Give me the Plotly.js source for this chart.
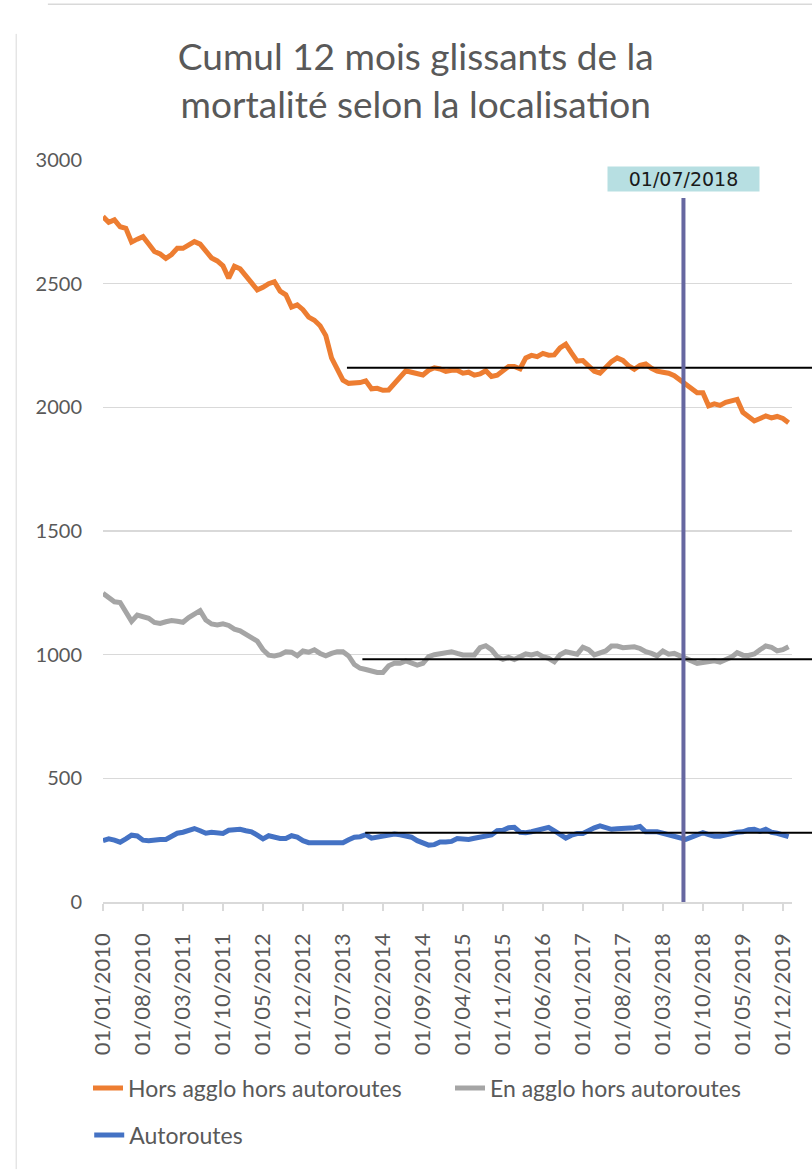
<!DOCTYPE html>
<html>
<head>
<meta charset="utf-8">
<script src="https://cdn.plot.ly/plotly-3.0.1.min.js"></script>
<style>html,body{margin:0;padding:0;background:#fff;}#chart{width:812px;height:1170px;}</style>
</head>
<body>
<div id="chart"></div>
<script>
// Monthly categories 01/01/2010 .. 01/01/2020
const firstYear = 2010, monthCount = 121;
const categories = [];
for (let i = 0; i < monthCount; i++) {
  const m = (i % 12) + 1, y = firstYear + Math.floor(i / 12);
  categories.push('01/' + String(m).padStart(2, '0') + '/' + y);
}
const tickLabels = ['01/01/2010','01/08/2010','01/03/2011','01/10/2011','01/05/2012','01/12/2012',
  '01/07/2013','01/02/2014','01/09/2014','01/04/2015','01/11/2015','01/06/2016','01/01/2017',
  '01/08/2017','01/03/2018','01/10/2018','01/05/2019','01/12/2019'];

const horsAgglo = [2771,2748,2758,2730,2724,2668,2680,2690,2660,2630,2620,2602,2618,2643,2643,2655,2670,2660,2630,2604,
  2592,2572,2522,2570,2560,2530,2500,2475,2485,2500,2508,2470,2455,2405,2414,2395,2365,2352,2330,2290,
  2200,2150,2110,2097,2097,2100,2107,2075,2077,2069,2070,2098,2120,2148,2142,2135,2131,2150,2160,2155,
  2145,2150,2150,2138,2142,2130,2135,2148,2125,2130,2150,2165,2165,2156,2200,2210,2205,2218,2211,2212,
  2240,2255,2220,2187,2189,2170,2146,2138,2165,2185,2200,2190,2168,2154,2170,2175,2158,2146,2142,2138,
  2128,2111,2090,2075,2059,2059,2006,2014,2008,2020,2026,2032,1980,1962,1945,1955,1965,1957,1963,1955,1938];

const enAgglo = [1248,1228,1214,1211,1170,1135,1160,1155,1147,1130,1126,1133,1138,1135,1131,1150,1165,1178,1140,1124,
  1120,1125,1118,1103,1096,1082,1065,1055,1020,998,995,1000,1012,1010,996,1015,1010,1020,1005,995,
  1005,1012,1012,995,960,945,940,934,928,928,955,965,965,975,965,958,965,992,1000,1003,
  1005,1012,1005,999,999,999,1028,1036,1020,992,981,989,980,990,1003,999,1005,992,985,971,
  1000,1012,1005,1002,1030,1020,999,1005,1015,1035,1035,1028,1028,1032,1025,1012,1005,995,1015,1002,
  1005,995,985,972,965,968,973,975,970,980,990,1008,998,997,1003,1020,1035,1030,1015,1020,1032];

const autoroutes = [248,255,250,242,255,270,267,250,248,253,253,253,265,278,282,290,297,288,278,282,
  282,277,290,294,294,288,284,270,255,268,262,257,257,268,262,248,240,240,240,240,
  240,240,240,252,262,264,272,258,262,264,266,275,272,268,262,248,238,230,232,243,
  243,245,257,255,253,258,262,267,271,288,290,300,302,282,280,284,290,295,302,288,
  275,258,270,277,277,290,300,308,302,294,296,297,294,300,305,284,284,284,278,271,
  266,261,253,262,272,280,272,266,266,272,280,282,284,292,294,286,294,282,278,272,264];

const seriesNames = ['Hors agglo hors autoroutes', 'En agglo hors autoroutes', 'Autoroutes'];
const seriesColors = ['#ED7D31', '#A5A5A5', '#4472C4'];

// Average reference levels (value, starting month index)
const refLevels = [2160, 981, 280];
const refStart = [42.7, 45.4, 45.9];
const markerIndex = 101.6;     // vertical marker "01/07/2018"
const markerLabel = '01/07/2018';
const markerTop = 2846;

const yMax = 3000;
const xMax = 120.6;

const traces = [horsAgglo, enAgglo, autoroutes].map((vals, k) => ({
  type: 'scatter', mode: 'lines', x: categories, y: vals, name: seriesNames[k],
  line: {color: seriesColors[k], width: 5, shape: 'linear'},
  legend: k < 2 ? 'legend' : 'legend2'
}));

const shapes = refLevels.map((v, k) => ({
  type: 'line', xref: 'paper', yref: 'paper',
  x0: refStart[k] / xMax, x1: 1.03, y0: v / yMax, y1: v / yMax,
  line: {color: '#000000', width: 2}
}));
shapes.push({type: 'line', xref: 'x', yref: 'y', x0: markerIndex, x1: markerIndex, y0: 0, y1: markerTop,
  line: {color: '#6667A0', width: 4}});
// slide frame lines
shapes.push({type: 'line', xref: 'paper', yref: 'paper', x0: -0.126, x1: -0.126, y0: -0.36, y1: 1.17,
  line: {color: '#D9D9D9', width: 1}});
shapes.push({type: 'line', xref: 'paper', yref: 'paper', x0: -0.08, x1: 1.03, y0: 1.21, y1: 1.21,
  line: {color: '#D9D9D9', width: 1.5}});

const txt = '#595959';
const layout = {
  width: 812, height: 1170,
  margin: {l: 103, r: 20, t: 160, b: 268},
  paper_bgcolor: '#ffffff', plot_bgcolor: '#ffffff',
  font: {family: 'Lato, "Open Sans", sans-serif', color: txt},
  title: {
    text: 'Cumul 12 mois glissants de la<br>mortalité selon la localisation',
    font: {family: 'Lato, sans-serif', size: 37, color: txt},
    x: 0.512, xanchor: 'center', xref: 'container', y: 0.940, yanchor: 'middle', yref: 'container'
  },
  xaxis: {
    type: 'category', range: [0, xMax], tickmode: 'array', tickvals: tickLabels, ticktext: tickLabels,
    tickangle: -90, ticks: 'outside', ticklen: 7, tickcolor: '#D9D9D9', tickwidth: 1.5,
    showline: true, linecolor: '#D9D9D9', linewidth: 1.5, showgrid: false, zeroline: false,
    tickfont: {size: 22, color: txt}, ticklabelstandoff: 14
  },
  yaxis: {
    range: [0, yMax], tickvals: [0, 500, 1000, 1500, 2000, 2500, 3000],
    showgrid: true, gridcolor: '#D9D9D9', gridwidth: 1.5, zeroline: false, showline: false,
    ticks: '', tickfont: {size: 20, color: txt}, ticklabelstandoff: 20
  },
  shapes: shapes,
  annotations: [{
    xref: 'x', yref: 'paper', x: markerIndex, y: (902 - 179) / 742, xanchor: 'center', yanchor: 'middle',
    text: markerLabel, showarrow: false, bgcolor: '#B7DFE2', width: 149, height: 22, borderpad: 1,
    font: {family: '"DejaVu Sans", sans-serif', size: 19, color: '#1a1a1a'}
  }],
  showlegend: true,
  legend: {orientation: 'h', x: -0.02, xanchor: 'left', y: -0.2507, yanchor: 'middle',
    entrywidth: 317, entrywidthmode: 'pixels', font: {size: 23, color: txt}, bgcolor: 'rgba(0,0,0,0)'},
  legend2: {orientation: 'h', x: -0.02, xanchor: 'left', y: -0.314, yanchor: 'middle',
    font: {size: 23, color: txt}, bgcolor: 'rgba(0,0,0,0)'}
};

Plotly.newPlot('chart', traces, layout, {staticPlot: true, displayModeBar: false});
</script>
</body>
</html>
